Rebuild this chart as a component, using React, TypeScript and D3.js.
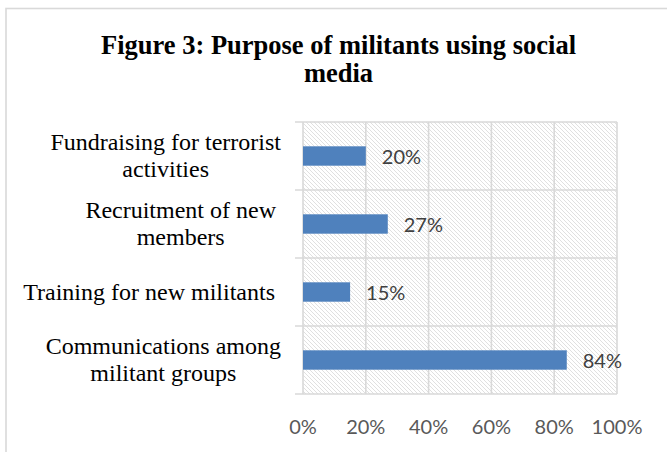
import React, { useEffect, useRef } from "react";
import * as d3 from "d3";

const titleLines = ["Figure 3: Purpose of militants using social", "media"];
const categories = [
  "Fundraising for terrorist activities",
  "Recruitment of new members",
  "Training for new militants",
  "Communications among militant groups",
];
const categoryLines = [
  ["Fundraising for terrorist", "activities"],
  ["Recruitment of new", "members"],
  ["Training for new militants"],
  ["Communications among", "militant groups"],
];
const values = [0.2, 0.27, 0.15, 0.84];
const xTicks = [0, 0.2, 0.4, 0.6, 0.8, 1.0];

const W = 667;
const H = 452;
const plot = { left: 303, right: 617, top: 122, bottom: 394 };
const labelRightEdges = [281, 276, 275, 281];

export default function App() {
  const ref = useRef<SVGSVGElement | null>(null);

  useEffect(() => {
    const svg = d3.select(ref.current);
    svg.selectAll("*").remove();

    const defs = svg.append("defs");
    const pat = defs
      .append("pattern")
      .attr("id", "hatch")
      .attr("patternUnits", "userSpaceOnUse")
      .attr("width", 4)
      .attr("height", 4);
    pat.append("rect").attr("width", 4).attr("height", 4).attr("fill", "#ffffff");
    pat
      .append("path")
      .attr("d", "M-1,-1 L5,5 M-1,3 L1,5 M3,-1 L5,1")
      .attr("stroke", "#dddddd")
      .attr("stroke-width", 0.9);

    svg.append("rect").attr("width", W).attr("height", H).attr("fill", "#fff");
    svg
      .append("rect")
      .attr("x", 6)
      .attr("y", 8.5)
      .attr("width", 800)
      .attr("height", 600)
      .attr("fill", "none")
      .attr("stroke", "#d9d9d9")
      .attr("stroke-width", 1.6);

    // title
    const title = svg
      .append("text")
      .attr("text-anchor", "middle")
      .attr("font-family", "'Liberation Serif', 'Times New Roman', serif")
      .attr("font-weight", "bold")
      .attr("font-size", 26.5)
      .attr("fill", "#000");
    titleLines.forEach((t, i) => {
      title
        .append("tspan")
        .attr("x", 338.5)
        .attr("y", 53.5 + i * 28.5)
        .text(t);
    });

    const x = d3.scaleLinear().domain([0, 1]).range([plot.left, plot.right]);
    const yBand = d3.scaleBand<string>().domain(categories).range([plot.top, plot.bottom]).padding(0);
    const yBar = d3
      .scaleBand<string>()
      .domain(categories)
      .range([plot.top, plot.bottom])
      .paddingInner(0.715)
      .paddingOuter(0.3575);

    // plot background hatch
    svg
      .append("rect")
      .attr("x", plot.left)
      .attr("y", plot.top)
      .attr("width", plot.right - plot.left)
      .attr("height", plot.bottom - plot.top)
      .attr("fill", "url(#hatch)");

    // vertical gridlines
    svg
      .append("g")
      .selectAll("line")
      .data(xTicks)
      .join("line")
      .attr("x1", (d) => x(d))
      .attr("x2", (d) => x(d))
      .attr("y1", plot.top)
      .attr("y2", plot.bottom)
      .attr("stroke", "#d9d9d9")
      .attr("stroke-width", 1.6);

    // horizontal separators (with left ticks)
    const seps = categories.map((c) => yBand(c) as number).concat([plot.bottom]);
    svg
      .append("g")
      .selectAll("line")
      .data(seps)
      .join("line")
      .attr("x1", plot.left - 8)
      .attr("x2", plot.right)
      .attr("y1", (d) => d)
      .attr("y2", (d) => d)
      .attr("stroke", "#d9d9d9")
      .attr("stroke-width", 1.6);

    // bars
    svg
      .append("g")
      .selectAll("rect")
      .data(categories)
      .join("rect")
      .attr("x", x(0))
      .attr("y", (d) => yBar(d) as number)
      .attr("width", (d, i) => x(values[i]) - x(0))
      .attr("height", yBar.bandwidth())
      .attr("fill", "#4f81bd");

    // data labels
    svg
      .append("g")
      .selectAll("text")
      .data(categories)
      .join("text")
      .attr("x", (d, i) => x(values[i]) + 16)
      .attr("y", (d) => (yBar(d) as number) + yBar.bandwidth() / 2 + 8)
      .attr("font-family", "Lato, 'Open Sans', sans-serif")
      .attr("font-size", 20)
      .attr("fill", "#404040")
      .text((d, i) => `${Math.round(values[i] * 100)}%`);

    // x tick labels
    svg
      .append("g")
      .selectAll("text")
      .data(xTicks)
      .join("text")
      .attr("x", (d) => x(d))
      .attr("y", 434)
      .attr("text-anchor", "middle")
      .attr("font-family", "Lato, 'Open Sans', sans-serif")
      .attr("font-size", 20)
      .attr("fill", "#595959")
      .text((d) => d3.format(".0%")(d));

    // category labels: right-aligned block with centered lines
    categories.forEach((c, i) => {
      const lines = categoryLines[i];
      const labelRight = labelRightEdges[i];
      const center = (yBand(c) as number) + yBand.bandwidth() / 2;
      const g = svg
        .append("text")
        .attr("text-anchor", "middle")
        .attr("font-family", "'Liberation Serif', 'Times New Roman', serif")
        .attr("font-size", 24)
        .attr("fill", "#000");
      const spans = lines.map((t, j) => {
        const baseY = lines.length === 1 ? center + 8 : center - 6 + j * 27;
        return g.append("tspan").attr("x", 0).attr("y", baseY).text(t);
      });
      let maxW = 0;
      spans.forEach((s) => {
        const n = s.node() as SVGTSpanElement;
        maxW = Math.max(maxW, n.getComputedTextLength());
      });
      spans.forEach((s) => s.attr("x", labelRight - maxW / 2));
    });
  }, []);

  return (
    <svg
      ref={ref}
      width={W}
      height={H}
      style={{ position: "absolute", left: 0, top: 0, display: "block" }}
    />
  );
}
